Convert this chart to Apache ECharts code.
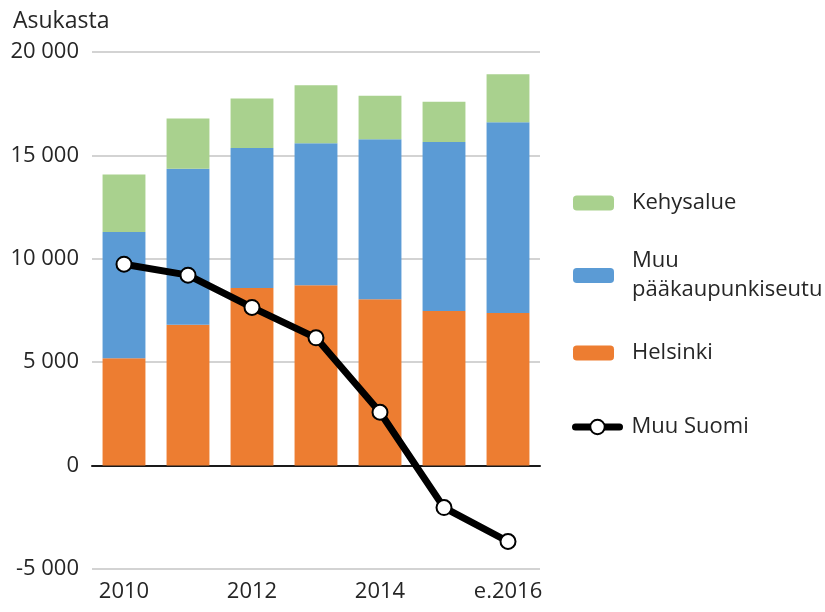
<!DOCTYPE html>
<html>
<head>
<meta charset="utf-8">
<script src="https://cdn.jsdelivr.net/npm/echarts@6/dist/echarts.min.js"></script>
<style>
html,body{margin:0;padding:0;background:#fff;}
#chart{width:825px;height:612px;}
</style>
</head>
<body>
<div id="chart"></div>
<script>
const categories = ['2010', '2011', '2012', '2013', '2014', '2015', 'e.2016'];
const helsinki = [5190, 6810, 8590, 8720, 8040, 7470, 7380];
const muuPk = [6110, 7540, 6770, 6870, 7740, 8180, 9220];
const kehysalue = [2780, 2430, 2390, 2800, 2110, 1950, 2320];
const muuSuomi = [9740, 9210, 7650, 6180, 2580, -2030, -3670];
const yTicks = { min: -5000, max: 20000, step: 5000 };

const FONT = 'Open Sans';
const TXT = '#262626';
function fmt(v) {
  return (v < 0 ? '-' : '') + String(Math.abs(v)).replace(/\B(?=(\d{3})+(?!\d))/g, ' ');
}

const chart = echarts.init(document.getElementById('chart'));
const legendBase = {
  orient: 'vertical', padding: 0, itemWidth: 41, itemHeight: 15, selectedMode: false,
  textStyle: { fontFamily: FONT, fontSize: 22, color: TXT, lineHeight: 15, padding: [0, 0, 0, 13] }
};
chart.setOption({
  animation: false,
  title: { text: 'Asukasta', left: 8, top: 5, textStyle: { fontFamily: FONT, fontSize: 23, fontWeight: 'normal', color: TXT } },
  grid: { left: 92, right: 285, top: 52, bottom: 43 },
  legend: [
    Object.assign({}, legendBase, { data: ['Kehysalue'], left: 573, top: 192 }),
    Object.assign({}, legendBase, { data: ['Muu pääkaupunkiseutu'], left: 573, top: 232,
      formatter: function () { return 'Muu\npääkaupunkiseutu'; },
      textStyle: { fontFamily: FONT, fontSize: 22, color: TXT, lineHeight: 29, padding: [29, 0, 0, 13] } }),
    Object.assign({}, legendBase, { data: ['Muu Suomi'], left: 572, top: 416, itemWidth: 44, itemHeight: 18,
      lineStyle: { width: 7, color: '#000', cap: 'round' },
      textStyle: { fontFamily: FONT, fontSize: 22, color: TXT, lineHeight: 18, padding: [0, 0, 0, 7] } }),
    Object.assign({}, legendBase, { data: ['Helsinki'], left: 573, top: 342 })
  ],
  xAxis: [
    {
      type: 'category', data: categories, boundaryGap: true,
      axisLine: { show: false, onZero: false }, axisTick: { show: false },
      axisLabel: { interval: 1, margin: 12, fontFamily: FONT, fontSize: 22, color: TXT }
    },
    {
      type: 'category', data: categories, boundaryGap: true, position: 'bottom',
      axisLine: { show: true, onZero: true, lineStyle: { color: '#1a1a1a', width: 2 } },
      axisTick: { show: false }, axisLabel: { show: false }
    }
  ],
  yAxis: {
    type: 'value', min: yTicks.min, max: yTicks.max, interval: yTicks.step,
    axisLine: { show: false }, axisTick: { show: false },
    axisLabel: { margin: 13, fontFamily: FONT, fontSize: 22, color: TXT, formatter: fmt },
    splitLine: { lineStyle: { color: '#c4c4c4', width: 1.5 } }
  },
  series: [
    { name: 'Helsinki', type: 'bar', stack: 's', data: helsinki, barCategoryGap: '33%', itemStyle: { color: '#ed7d31' } },
    { name: 'Muu pääkaupunkiseutu', type: 'bar', stack: 's', data: muuPk, itemStyle: { color: '#5b9bd5' } },
    { name: 'Kehysalue', type: 'bar', stack: 's', data: kehysalue, itemStyle: { color: '#a9d18e' } },
    {
      name: 'Muu Suomi', type: 'line', data: muuSuomi, z: 10,
      symbol: 'circle', symbolSize: 15,
      lineStyle: { color: '#000', width: 7, join: 'round', cap: 'round' },
      itemStyle: { color: '#fff', borderColor: '#000', borderWidth: 2 }
    }
  ]
});
</script>
</body>
</html>
